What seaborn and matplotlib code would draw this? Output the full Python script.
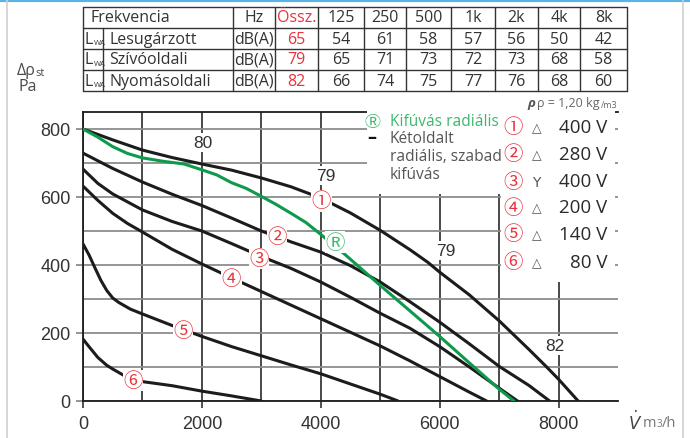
"""
Fan curve chart: static pressure vs. air flow, with sound power table.
"""

import matplotlib.pyplot as plt
import pandas as pd
import seaborn as sns
from matplotlib.lines import Line2D
from matplotlib.patches import Rectangle

# --- curve data (m3/h, Pa) ---
c1_x = [0, 500, 1000, 1500, 2000, 2500, 3000, 3500, 4000, 4500, 5000, 5500, 5800, 6000, 6500, 7000, 7500, 7800, 8000, 8330]
c1_y = [800, 768, 738, 716, 697, 679, 656, 630, 597, 553, 502, 445, 408, 379, 312, 236, 152, 100, 64, 0]

c2_x = [0, 500, 1000, 1500, 2000, 2500, 3000, 3500, 4000, 4500, 5000, 5500, 6000, 6500, 7000, 7500, 7850]
c2_y = [729, 684, 644, 608, 575, 538, 500, 468, 438, 398, 350, 292, 232, 168, 102, 46, 0]

c3_x = [0, 250, 500, 1000, 1500, 2000, 2500, 3000, 3500, 4000, 4500, 5000, 5500, 6000, 6500, 7000, 7310]
c3_y = [682, 640, 609, 562, 528, 500, 463, 425, 390, 350, 305, 258, 214, 160, 100, 38, 0]

c4_x = [0, 250, 500, 750, 1000, 1500, 2000, 2500, 3000, 3500, 4000, 4500, 5000, 5500, 6000, 6500, 6790]
c4_y = [632, 590, 552, 522, 497, 446, 403, 362, 322, 282, 242, 202, 162, 118, 72, 26, 0]

c5_x = [0, 100, 200, 300, 400, 500, 600, 800, 1000, 1500, 2000, 2500, 3000, 3500, 4000, 4500, 5000, 5300]
c5_y = [462, 430, 392, 355, 325, 303, 290, 270, 256, 222, 190, 160, 133, 106, 80, 50, 20, 0]

c6_x = [0, 100, 250, 400, 500, 750, 1000, 1500, 2000, 2500, 3000]
c6_y = [182, 160, 128, 105, 94, 69, 57, 45, 29, 15, 0]

cr_x = [0, 250, 500, 750, 1000, 1350, 1700, 2000, 2250, 2500, 2750, 3000, 3250, 3500, 3750, 4000, 4400, 5000, 5500, 6000, 6500, 7000, 7250]
cr_y = [800, 776, 748, 728, 715, 705, 697, 680, 665, 642, 625, 602, 578, 552, 525, 490, 432, 340, 265, 190, 112, 35, 0]

# --- sound power table ---
freq_labels = ["125", "250", "500", "1k", "2k", "4k", "8k"]
row_names = ["Lesugárzott", "Szívóoldali", "Nyomásoldali"]
row_totals = [65, 79, 82]
lw_lesug = [54, 61, 58, 57, 56, 50, 42]
lw_szivo = [65, 71, 73, 72, 73, 68, 58]
lw_nyomo = [66, 74, 75, 77, 76, 68, 60]

# --- legend / annotations ---
curve_marks = ["①", "②", "③", "④", "⑤", "⑥"]
connections = ["△", "△", "Y", "△", "△", "△"]
voltages = ["400 V", "280 V", "400 V", "200 V", "140 V", "80 V"]
level_labels = ["80", "79", "79", "82"]

RED = "#e8323c"
GREEN = "#0e9a4c"
LGREEN = "#3cb86e"
GREY = "#4a4a4a"
SYM = ["Noto Sans CJK JP", "DejaVu Sans"]

W, H = 690, 439


def fx(px):
    return px / W


def fy(py):
    return 1 - py / H


def dx(px):
    return (px - 83) / 0.0595


def dy(py):
    return (402 - py) / 0.34


sns.set_theme(style="white")
plt.rcParams["font.family"] = ["Open Sans", "DejaVu Sans"]
plt.rcParams["mathtext.fontset"] = "dejavusans"

curves = [("1", c1_x, c1_y), ("2", c2_x, c2_y), ("3", c3_x, c3_y), ("4", c4_x, c4_y),
          ("5", c5_x, c5_y), ("6", c6_x, c6_y), ("R", cr_x, cr_y)]
df = pd.concat([pd.DataFrame({"flow": xs, "dp": ys, "curve": name}) for name, xs, ys in curves],
               ignore_index=True)
palette = {"1": "#1c1c1c", "2": "#1c1c1c", "3": "#1c1c1c", "4": "#1c1c1c",
           "5": "#1c1c1c", "6": "#1c1c1c", "R": GREEN}

fig = plt.figure(figsize=(W / 100, H / 100), dpi=100)
ax = fig.add_axes([fx(83), 37 / H, 535 / W, 289 / H])

sns.lineplot(data=df, x="flow", y="dp", hue="curve", palette=palette, estimator=None,
             sort=False, legend=False, linewidth=2.2, ax=ax, zorder=3)

ax.set_xlim(0, 9000)
ax.set_ylim(0, 850)
ax.set_xticks([0, 2000, 4000, 6000, 8000])
ax.set_xticks([1000, 3000, 5000, 7000], minor=True)
ax.set_yticks([0, 200, 400, 600, 800])
ax.set_yticks([100, 300, 500, 700], minor=True)
ax.set_xlabel("")
ax.set_ylabel("")
ax.set_axisbelow(True)
ax.grid(which="both", axis="x", color="#2a2a2a", linewidth=1.2)
ax.grid(which="both", axis="y", color="#8c8c8c", linewidth=1.3)
ax.tick_params(axis="x", which="major", length=5, width=1.2, color="#333333", pad=5,
               labelsize=13, labelcolor="#333333", bottom=True)
ax.tick_params(axis="y", which="major", length=5, width=1.3, color="#8c8c8c", pad=4,
               labelsize=13, labelcolor="#333333", left=True)
ax.tick_params(which="minor", length=0)
for lbl in ax.get_xticklabels() + ax.get_yticklabels():
    lbl.set_fontfamily("Liberation Sans")

for side in ["left", "bottom", "top"]:
    ax.spines[side].set_color("#1c1c1c")
    ax.spines[side].set_linewidth(1.3)
ax.spines["right"].set_visible(False)

# white legend areas that break the grid
ax.add_patch(Rectangle((4770, 610), 8950 - 4770, 260, facecolor="white", edgecolor="none",
                       zorder=2.6, clip_on=False))
ax.add_patch(Rectangle((7025, 350), 8950 - 7025, 262, facecolor="white", edgecolor="none",
                       zorder=2.6, clip_on=False))

# level numbers on the grid
level_pos = [(2025, 760), (4080, 663), (6100, 443), (7930, 163)]
for txt, (x, y) in zip(level_labels, level_pos):
    ax.text(x, y, txt, ha="center", va="center", fontsize=12.5, color="#333333",
            family="Liberation Sans", zorder=2.7,
            bbox=dict(boxstyle="square,pad=0.12", fc="white", ec="none"))

# curve numbers
mark_pos = [(4010, 589), (3265, 484), (2960, 419), (2499, 359), (1686, 207), (846, 60)]
for txt, (x, y) in zip(curve_marks, mark_pos):
    ax.text(x, y, txt, ha="center", va="center", fontsize=14, color=RED, family=SYM,
            zorder=5, bbox=dict(boxstyle="square,pad=0.02", fc="white", ec="none"))
ax.text(4235, 467, "Ⓡ", ha="center", va="center", fontsize=14, color=LGREEN, family=SYM,
        zorder=5, bbox=dict(boxstyle="square,pad=0.02", fc="white", ec="none"))

# legend (left block)
ax.text(dx(373), dy(122), "Ⓡ", ha="center", va="center", fontsize=11.5, color=LGREEN,
        family=SYM, zorder=4)
ax.text(dx(390), dy(122), "Kifúvás radiális", ha="left", va="center", fontsize=11.2,
        color=LGREEN, zorder=4)
ax.text(dx(372), dy(138), "–", ha="center", va="center", fontsize=13, color="#111111",
        fontweight="bold", zorder=4)
ax.text(dx(390), dy(131), "Kétoldalt\nradiális, szabad\nkifúvás", ha="left", va="top",
        fontsize=11.2, color="#555555", linespacing=1.18, zorder=4)

# legend (right block)
row_py = [128, 155, 182, 208, 235, 263]
for mark, conn, volt, py in zip(curve_marks, connections, voltages, row_py):
    ax.text(dx(514), dy(py), mark, ha="center", va="center", fontsize=14, color=RED,
            family=SYM, zorder=4)
    ax.text(dx(537), dy(py + 1), conn, ha="center", va="center", fontsize=9 if conn != "Y" else 10,
            color="#555555", family="DejaVu Sans", zorder=4)
    ax.text(dx(608), dy(py), volt, ha="right", va="center", fontsize=13.5, color="#2a2a2a",
            zorder=4)

# --- figure texts ---
fig.text(fx(17), fy(71), "Δρ", ha="left", va="center", fontsize=11.5, color=GREY)
fig.text(fx(35), fy(74), "st", ha="left", va="center", fontsize=8, color=GREY)
fig.text(fx(18), fy(87), "Pa", ha="left", va="center", fontsize=11.5, color=GREY)

fig.text(fx(527), fy(104), "ρ", ha="left", va="center", fontsize=9.5, color="#555555",
         style="italic", fontweight="bold")
fig.text(fx(537), fy(104), "ρ = 1,20 kg", ha="left", va="center", fontsize=9, color="#666666")
fig.text(fx(601), fy(106), "/m3", ha="left", va="center", fontsize=6.5, color="#666666")

fig.text(fx(628), fy(422), r"$\dot{V}$", ha="left", va="center", fontsize=12, color="#444444")
fig.text(fx(643), fy(424), "m", ha="left", va="center", fontsize=10.5, color="#777777")
fig.text(fx(657), fy(425), "3", ha="left", va="center", fontsize=7, color="#777777")
fig.text(fx(662), fy(424), "/h", ha="left", va="center", fontsize=10.5, color="#777777")

# --- sound power table ---
t_left, t_right = 83, 627
row_edges = [8, 29, 50, 71, 92]
col_edges = [83, 233, 275, 318, 364, 406, 451, 495, 538, 580, 627]
for py in row_edges:
    fig.add_artist(Line2D([fx(t_left), fx(t_right)], [fy(py), fy(py)], color="#333333", lw=1))
for px in col_edges:
    fig.add_artist(Line2D([fx(px), fx(px)], [fy(row_edges[0]), fy(row_edges[-1])],
                          color="#333333", lw=1))
fig.add_artist(Line2D([fx(103), fx(103)], [fy(row_edges[1]), fy(row_edges[-1])],
                      color="#333333", lw=1))

row_cy = [(a + b) / 2 for a, b in zip(row_edges[:-1], row_edges[1:])]
col_cx = [(a + b) / 2 for a, b in zip(col_edges[1:-1], col_edges[2:])]
TFS = 11.5
fig.text(fx(90), fy(row_cy[0]), "Frekvencia", ha="left", va="center", fontsize=TFS, color="#333333")
fig.text(fx(col_cx[0]), fy(row_cy[0]), "Hz", ha="center", va="center", fontsize=TFS, color="#333333")
fig.text(fx(col_cx[1]), fy(row_cy[0]), "Össz.", ha="center", va="center", fontsize=TFS, color=RED)
for lab, cx in zip(freq_labels, col_cx[2:]):
    fig.text(fx(cx), fy(row_cy[0]), lab, ha="center", va="center", fontsize=TFS, color="#333333")

for name, total, vals, cy in zip(row_names, row_totals, [lw_lesug, lw_szivo, lw_nyomo], row_cy[1:]):
    fig.text(fx(85), fy(cy), "L", ha="left", va="center", fontsize=TFS, color="#333333")
    fig.text(fx(93.5), fy(cy + 4), "WA", ha="left", va="center", fontsize=5.5, color="#333333")
    fig.text(fx(109), fy(cy), name, ha="left", va="center", fontsize=TFS, color="#333333")
    fig.text(fx(col_cx[0]), fy(cy), "dB(A)", ha="center", va="center", fontsize=TFS, color="#333333")
    fig.text(fx(col_cx[1]), fy(cy), str(total), ha="center", va="center", fontsize=TFS, color=RED)
    for v, cx in zip(vals, col_cx[2:]):
        fig.text(fx(cx), fy(cy), str(v), ha="center", va="center", fontsize=TFS, color="#333333")

# page decoration: top bar and side frame
fig.add_artist(Line2D([0, 1], [fy(1), fy(1)], color="#58b4e4", lw=3))
for px in (7, 683):
    fig.add_artist(Line2D([fx(px), fx(px)], [fy(0), fy(439)], color="#d0d0d0", lw=1.2))

fig.savefig("out.png", dpi=100)
